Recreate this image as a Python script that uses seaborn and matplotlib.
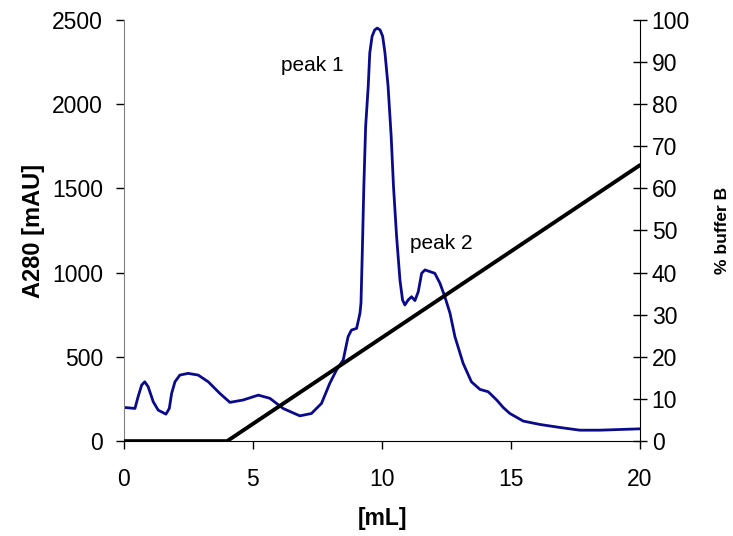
import numpy as np
import pandas as pd
import matplotlib
matplotlib.use("Agg")
import matplotlib.pyplot as plt
import seaborn as sns

# -----------------------------
# Data
# -----------------------------
volume_ml = [0.0, 0.43, 0.55, 0.69, 0.81, 0.94, 1.14, 1.33, 1.63, 1.76, 1.85, 1.98,
             2.17, 2.49, 2.88, 3.27, 3.72, 4.11, 4.62, 5.21, 5.66, 6.17, 6.82, 7.27,
             7.66, 7.98, 8.24, 8.50, 8.69, 8.82, 9.02, 9.15, 9.19, 9.24, 9.30, 9.37,
             9.47, 9.53, 9.62, 9.72, 9.82, 9.93, 10.03, 10.12, 10.24, 10.36, 10.45,
             10.57, 10.70, 10.80, 10.89, 11.02, 11.15, 11.28, 11.41, 11.54, 11.67,
             11.86, 12.05, 12.25, 12.44, 12.64, 12.83, 13.15, 13.47, 13.80, 14.12,
             14.45, 14.70, 14.96, 15.48, 16.12, 16.90, 17.67, 18.45, 19.22, 20.0]
a280_mau = [200, 194, 263, 333, 352, 323, 233, 184, 160, 194, 283, 352,
            392, 402, 392, 352, 283, 230, 244, 273, 254, 194, 150, 164,
            224, 343, 422, 481, 620, 659, 669, 759, 820, 1117, 1510, 1867,
            2105, 2303, 2402, 2440, 2451, 2440, 2402, 2303, 2105, 1808, 1510,
            1214, 956, 838, 808, 838, 857, 834, 887, 996, 1016,
            1006, 996, 937, 857, 759, 620, 461, 352, 307, 293,
            244, 200, 164, 119, 99, 81, 65, 65, 69, 73]

gradient_ml = [0.0, 4.0, 20.0]
gradient_pct = [0.0, 0.0, 65.5]

peak_labels = ["peak 1", "peak 2"]
peak_pos = [(6.1, 2230), (11.1, 1170)]

# -----------------------------
# Styling
# -----------------------------
sns.set_style("white")
plt.rcParams["font.family"] = ["Liberation Sans", "DejaVu Sans"]
plt.rcParams["text.color"] = "black"
plt.rcParams["axes.labelcolor"] = "black"
TICKS_FONT = 16.5
ANNOT_FONT = 15

chrom = pd.DataFrame({"mL": volume_ml, "A280": a280_mau})
grad = pd.DataFrame({"mL": gradient_ml, "B": gradient_pct})

fig = plt.figure(figsize=(7.33, 5.36), dpi=100)
ax = fig.add_axes([0.169, 0.177, 0.704, 0.786])

sns.lineplot(data=chrom, x="mL", y="A280", ax=ax, color="#0A0A8C", linewidth=2.0)
ax.set_xlim(0, 20)
ax.set_ylim(0, 2500)
ax.set_xticks([0, 5, 10, 15, 20])
ax.set_yticks([0, 500, 1000, 1500, 2000, 2500])
ax.set_xlabel("[mL]", fontsize=16.5, fontweight="bold", va="center", color="black")
ax.set_ylabel("A280 [mAU]", fontsize=17, fontweight="bold", va="center", color="black")
ax.xaxis.set_label_coords(0.502, -0.183)
ax.yaxis.set_label_coords(-0.176, 0.5)
ax.tick_params(axis="y", labelsize=TICKS_FONT, direction="out", length=6, width=1,
               pad=9, left=True, colors="black")
ax.tick_params(axis="x", labelsize=TICKS_FONT, direction="out", length=6, width=1,
               pad=13, bottom=True, colors="black")
ax.spines["top"].set_visible(False)
ax.spines["right"].set_visible(False)
ax.spines["left"].set_color("#808080")
ax.spines["bottom"].set_color("black")

ax2 = ax.twinx()
sns.lineplot(data=grad, x="mL", y="B", ax=ax2, color="black", linewidth=2.8)
ax2.set_ylim(0, 100)
ax2.set_yticks(np.arange(0, 101, 10))
ax2.set_ylabel("% buffer B", fontsize=12.5, fontweight="bold", va="center", color="black")
ax2.yaxis.set_label_coords(1.16, 0.5)
ax2.tick_params(axis="y", labelsize=TICKS_FONT, direction="inout", length=10, width=1,
                colors="black")
ax2.spines["top"].set_visible(False)
ax2.spines["left"].set_visible(False)
ax2.spines["bottom"].set_visible(False)
ax2.spines["right"].set_color("black")

for label, (x, y) in zip(peak_labels, peak_pos):
    ax.text(x, y, label, fontsize=ANNOT_FONT, va="center", ha="left", color="black")

fig.savefig("out.png", dpi=100)
